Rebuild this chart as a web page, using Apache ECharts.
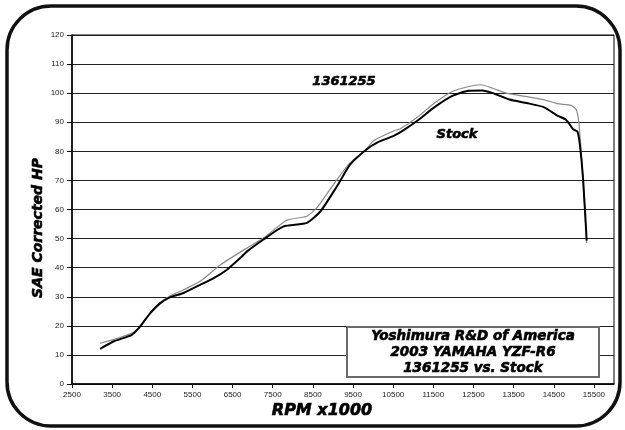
<!DOCTYPE html>
<html>
<head>
<meta charset="utf-8">
<script src="https://cdn.jsdelivr.net/npm/echarts@6/dist/echarts.min.js"></script>
<style>
  html, body { margin: 0; padding: 0; background: #fff; }
</style>
</head>
<body>
<div id="main" style="width: 625px; height: 430px;"></div>
<script>
// dyno data
const xTicks = [2500, 3500, 4500, 5500, 6500, 7500, 8500, 9500, 10500, 11500, 12500, 13500, 14500, 15500];

const pipeRpm = [3200, 3600, 4000, 4200, 4450, 4700, 4950, 5300, 5700, 6200, 6860, 7270, 7850, 8350, 8600, 9100, 9430, 9810, 10010, 10510, 10680, 11100, 11530, 11960, 12380, 12680, 12980, 13320, 13830, 14250, 14590, 14930, 15060, 15120, 15160, 15220, 15280, 15320];
const pipeHp = [14.0, 15.6, 17.5, 20.0, 24.5, 28.0, 30.3, 32.5, 35.4, 41.0, 46.8, 50.2, 56.3, 57.7, 60.6, 70.3, 76.1, 80.4, 83.6, 87.0, 87.8, 91.7, 96.6, 100.5, 102.3, 102.9, 101.7, 100.0, 98.8, 97.8, 96.4, 95.8, 94.3, 90.5, 84.0, 72.0, 58.0, 48.5];

const stockRpm = [3200, 3530, 3990, 4200, 4450, 4700, 4940, 5280, 5690, 6030, 6360, 6690, 6860, 7270, 7770, 8350, 8690, 9100, 9430, 9810, 10100, 10510, 10760, 11100, 11530, 11960, 12380, 12720, 12980, 13400, 13830, 14250, 14590, 14810, 14980, 15090, 15150, 15230, 15320];
const stockHp = [12.1, 14.6, 16.9, 19.8, 24.4, 27.8, 29.8, 31.3, 34.1, 36.4, 39.3, 43.3, 45.6, 49.7, 54.2, 55.4, 59.4, 68.0, 75.5, 80.4, 83.0, 85.3, 87.3, 90.5, 95.2, 99.0, 100.8, 100.9, 100.0, 97.8, 96.6, 95.2, 92.3, 90.8, 87.6, 86.8, 82.3, 70.5, 49.3];

const pairs = (xs, ys) => xs.map((x, i) => [x, ys[i]]);

const chart = echarts.init(document.getElementById('main'));
// heavy wide italic, thickened a bit with a thin stroke
const boldItalic = {
  fontFamily: 'DejaVu Sans', fontWeight: 'bold', fontStyle: 'italic',
  fill: '#000', stroke: '#000', lineWidth: 0.6
};

chart.setOption({
  animation: false,
  backgroundColor: '#fff',
  grid: {
    left: 72, top: 35, right: 11, bottom: 46,
    show: true, borderColor: '#000', borderWidth: 1
  },
  xAxis: {
    type: 'value',
    min: 2500,
    max: 16000,
    axisLine: { onZero: false, lineStyle: { color: '#000', width: 1.5 } },
    axisTick: { show: true, length: 4, customValues: xTicks, lineStyle: { color: '#000' } },
    axisLabel: {
      customValues: xTicks, margin: 7,
      formatter: v => String(v),
      fontFamily: 'Liberation Sans', fontSize: 8, color: '#222'
    },
    splitLine: { show: false }
  },
  yAxis: {
    type: 'value',
    min: 0, max: 120, interval: 10,
    axisLine: { show: true, lineStyle: { color: '#000', width: 1.5 } },
    axisTick: { show: true, length: 5, lineStyle: { color: '#000' } },
    axisLabel: { margin: 8, fontFamily: 'Liberation Sans', fontSize: 8, color: '#222' },
    splitLine: { lineStyle: { color: '#222', width: 1 } }
  },
  series: [
    {
      name: '1361255',
      type: 'line',
      data: pairs(pipeRpm, pipeHp),
      showSymbol: false,
      smooth: 0.2,
      lineStyle: { color: '#8a8a8a', width: 1.2 },
      z: 2
    },
    {
      name: 'Stock',
      type: 'line',
      data: pairs(stockRpm, stockHp),
      showSymbol: false,
      smooth: 0.2,
      lineStyle: { color: '#000', width: 2 },
      z: 3
    }
  ],
  graphic: [
    {
      type: 'rect', silent: true, z: -1,
      shape: { x: 7, y: 6, width: 613, height: 420, r: 44 },
      style: { fill: 'none', stroke: '#111', lineWidth: 3.5 }
    },
    {
      type: 'text', rotation: Math.PI / 2, x: 38, y: 228,
      style: Object.assign({ text: 'SAE Corrected HP', fontSize: 14, align: 'center', verticalAlign: 'middle' }, boldItalic)
    },
    {
      type: 'text', x: 322, y: 411,
      style: Object.assign({ text: 'RPM x1000', fontSize: 16, align: 'center', verticalAlign: 'middle' }, boldItalic)
    },
    {
      type: 'text', x: 344, y: 82, z: 10,
      style: Object.assign({ text: '1361255', fontSize: 13, align: 'center', verticalAlign: 'middle' }, boldItalic)
    },
    {
      type: 'text', x: 457, y: 135, z: 10,
      style: Object.assign({ text: 'Stock', fontSize: 13, align: 'center', verticalAlign: 'middle' }, boldItalic)
    },
    {
      type: 'rect', z: 10,
      shape: { x: 347, y: 327, width: 252, height: 50 },
      style: { fill: '#fff', stroke: '#6a6a6a', lineWidth: 2 }
    },
    {
      type: 'text', x: 473, y: 352, z: 11,
      style: Object.assign({
        text: 'Yoshimura R&D of America\n2003 YAMAHA YZF-R6\n1361255 vs. Stock',
        fontSize: 13.5, lineHeight: 16, align: 'center', verticalAlign: 'middle'
      }, boldItalic)
    }
  ]
});

window.onresize = function () {
  chart.resize();
};
</script>
</body>
</html>
